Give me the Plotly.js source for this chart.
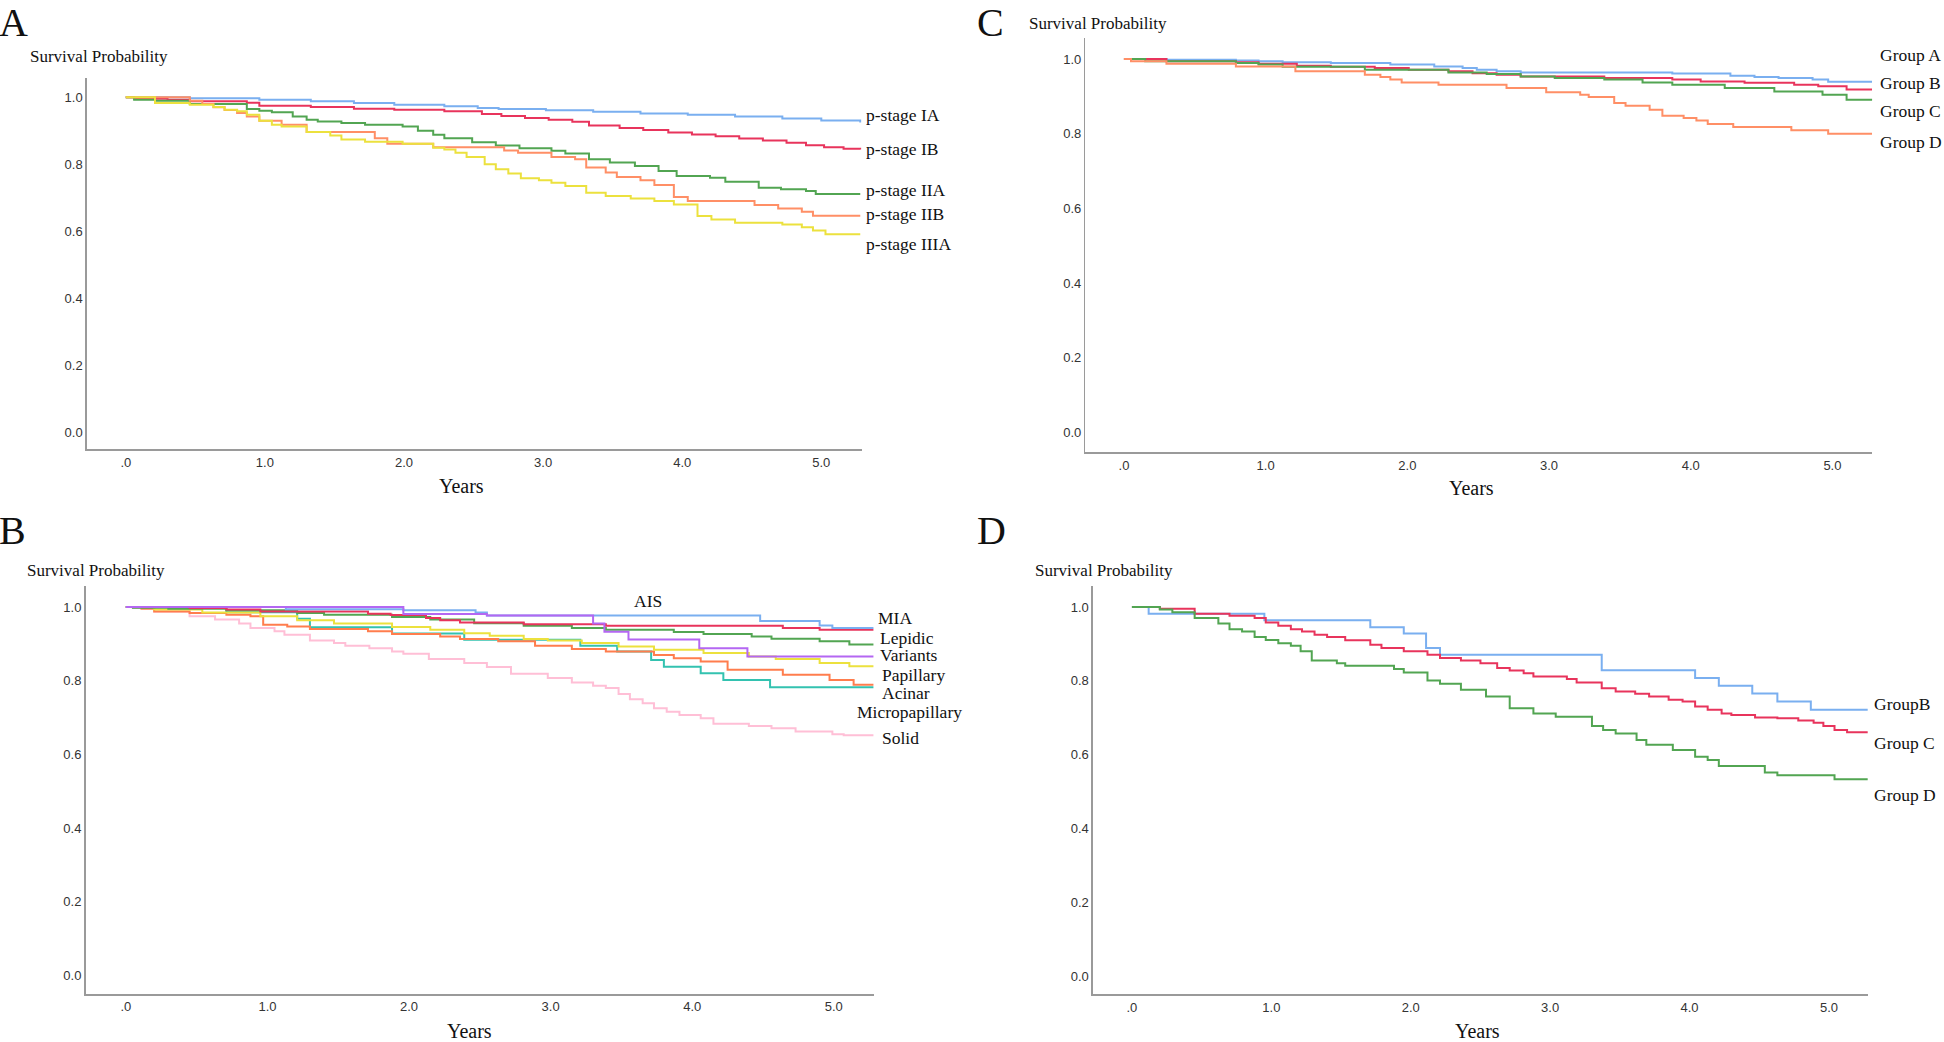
<!DOCTYPE html>
<html><head><meta charset="utf-8">
<script src="https://cdn.plot.ly/plotly-3.0.1.min.js"></script>
<style>html,body{margin:0;padding:0;background:#fff;}#chart{width:1944px;height:1042px;}</style>
</head><body><div id="chart"></div>
<script>
// ---------- tick labels ----------
const yearTicks = [0, 1, 2, 3, 4, 5];
const yearTickText = ['.0', '1.0', '2.0', '3.0', '4.0', '5.0'];
const probTicks = [0, 0.2, 0.4, 0.6, 0.8, 1.0];
const probTickText = ['0.0', '0.2', '0.4', '0.6', '0.8', '1.0'];

// ---------- Panel A : p-stage ----------
const stageLabels = ['p-stage IA', 'p-stage IB', 'p-stage IIA', 'p-stage IIB', 'p-stage IIIA'];
const IA_t = [0, 0.46, 0.96, 1.33, 1.64, 1.93, 2.29, 2.53, 2.68, 3.02, 3.36, 3.70, 4.04, 4.38, 4.72, 5.00, 5.28];
const IA_s = [1.000, 0.997, 0.993, 0.988, 0.983, 0.978, 0.973, 0.968, 0.965, 0.961, 0.957, 0.952, 0.948, 0.943, 0.937, 0.931, 0.925];
const IB_t = [0, 0.06, 0.30, 0.46, 0.87, 0.96, 1.33, 1.64, 1.93, 2.29, 2.56, 2.70, 2.87, 3.04, 3.21, 3.33, 3.55, 3.72, 3.90, 4.07, 4.24, 4.41, 4.58, 4.75, 4.89, 5.02, 5.16, 5.28];
const IB_s = [1.000, 0.996, 0.993, 0.988, 0.984, 0.975, 0.971, 0.966, 0.963, 0.958, 0.950, 0.944, 0.938, 0.933, 0.927, 0.916, 0.908, 0.902, 0.895, 0.889, 0.884, 0.877, 0.871, 0.864, 0.857, 0.851, 0.846, 0.844];
const IIA_t = [0, 0.06, 0.21, 0.46, 0.87, 0.96, 1.05, 1.20, 1.30, 1.38, 1.55, 1.72, 1.99, 2.10, 2.21, 2.29, 2.49, 2.66, 2.83, 3.06, 3.16, 3.33, 3.48, 3.66, 3.83, 3.96, 4.20, 4.31, 4.55, 4.71, 4.89, 4.96, 5.28];
const IIA_s = [1.000, 0.993, 0.990, 0.980, 0.965, 0.960, 0.955, 0.943, 0.933, 0.928, 0.923, 0.918, 0.913, 0.900, 0.888, 0.878, 0.866, 0.856, 0.848, 0.840, 0.832, 0.815, 0.805, 0.795, 0.780, 0.765, 0.760, 0.748, 0.730, 0.725, 0.720, 0.711, 0.711];
const IIB_t = [0, 0.46, 0.55, 0.63, 0.71, 0.80, 0.87, 0.96, 1.12, 1.30, 1.79, 1.88, 2.21, 2.72, 2.82, 3.06, 3.23, 3.31, 3.45, 3.53, 3.70, 3.80, 3.94, 4.04, 4.52, 4.69, 4.86, 4.94, 5.28];
const IIB_s = [1.000, 0.990, 0.980, 0.970, 0.962, 0.953, 0.943, 0.930, 0.918, 0.896, 0.878, 0.861, 0.851, 0.841, 0.834, 0.822, 0.815, 0.790, 0.775, 0.762, 0.752, 0.738, 0.702, 0.690, 0.678, 0.668, 0.658, 0.646, 0.646];
const IIIA_t = [0, 0.21, 0.46, 0.63, 0.71, 0.80, 0.87, 0.96, 1.05, 1.12, 1.30, 1.47, 1.55, 1.72, 1.99, 2.21, 2.29, 2.37, 2.45, 2.58, 2.66, 2.75, 2.84, 2.97, 3.06, 3.16, 3.31, 3.45, 3.63, 3.80, 3.94, 4.11, 4.21, 4.38, 4.72, 4.86, 4.94, 5.03, 5.28];
const IIIA_s = [1.000, 0.983, 0.978, 0.971, 0.963, 0.958, 0.948, 0.930, 0.918, 0.913, 0.896, 0.886, 0.874, 0.867, 0.861, 0.849, 0.844, 0.834, 0.822, 0.800, 0.785, 0.772, 0.758, 0.752, 0.745, 0.735, 0.715, 0.705, 0.698, 0.690, 0.680, 0.645, 0.635, 0.625, 0.620, 0.612, 0.602, 0.591, 0.591];

// ---------- Panel B : histologic subtype ----------
const subtypeLabels = ['AIS', 'MIA', 'Lepidic', 'Variants', 'Papillary', 'Acinar', 'Micropapillary', 'Solid'];
const AIS_t = [0, 1.13, 1.96, 2.47, 2.55, 4.48, 4.90, 4.99, 5.28];
const AIS_s = [1.000, 0.994, 0.991, 0.985, 0.977, 0.962, 0.950, 0.943, 0.943];
const MIA_t = [0, 0.45, 0.71, 0.95, 1.71, 1.87, 2.12, 2.22, 2.36, 2.81, 3.39, 4.64, 4.90, 5.28];
const MIA_s = [1.000, 0.997, 0.993, 0.988, 0.982, 0.978, 0.970, 0.964, 0.958, 0.953, 0.949, 0.943, 0.938, 0.938];
const Lep_t = [0, 0.05, 0.30, 0.71, 1.21, 1.40, 1.88, 2.15, 2.46, 2.81, 3.15, 3.39, 3.87, 4.08, 4.42, 4.56, 4.90, 5.11, 5.28];
const Lep_s = [1.000, 0.998, 0.995, 0.991, 0.984, 0.979, 0.973, 0.966, 0.956, 0.949, 0.943, 0.938, 0.932, 0.927, 0.920, 0.914, 0.907, 0.898, 0.898];
const Var_t = [0, 1.96, 2.55, 3.30, 3.38, 3.55, 4.05, 4.39, 5.28];
const Var_s = [1.000, 0.981, 0.977, 0.955, 0.933, 0.912, 0.888, 0.866, 0.866];
const Pap_t = [0, 0.20, 0.54, 0.95, 1.21, 1.47, 1.88, 2.15, 2.39, 2.57, 2.81, 2.98, 3.22, 3.48, 3.73, 4.08, 4.40, 4.59, 4.90, 5.11, 5.28];
const Pap_s = [1.000, 0.993, 0.985, 0.975, 0.964, 0.955, 0.946, 0.938, 0.929, 0.922, 0.913, 0.909, 0.902, 0.893, 0.884, 0.875, 0.866, 0.859, 0.848, 0.839, 0.839];
const Aci_t = [0, 0.11, 0.20, 0.45, 0.71, 0.88, 0.97, 1.14, 1.30, 1.71, 1.88, 2.22, 2.36, 2.63, 2.89, 3.15, 3.39, 3.73, 3.87, 4.06, 4.25, 4.64, 4.97, 5.14, 5.28];
const Aci_s = [1.000, 0.995, 0.988, 0.984, 0.979, 0.975, 0.952, 0.947, 0.940, 0.934, 0.927, 0.920, 0.913, 0.907, 0.895, 0.886, 0.879, 0.870, 0.861, 0.852, 0.830, 0.816, 0.802, 0.789, 0.789];
const Mic_t = [0, 0.71, 1.21, 1.30, 1.88, 2.39, 3.21, 3.47, 3.71, 3.80, 4.06, 4.22, 4.55, 5.28];
const Mic_s = [1.000, 0.986, 0.968, 0.945, 0.928, 0.911, 0.895, 0.879, 0.856, 0.838, 0.820, 0.802, 0.782, 0.782];
const Sol_t = [0, 0.05, 0.20, 0.45, 0.63, 0.80, 0.88, 1.05, 1.12, 1.30, 1.47, 1.55, 1.72, 1.88, 1.96, 2.14, 2.39, 2.55, 2.72, 2.98, 3.15, 3.30, 3.39, 3.48, 3.56, 3.65, 3.73, 3.82, 3.91, 4.06, 4.15, 4.40, 4.56, 4.73, 4.99, 5.07, 5.28];
const Sol_s = [1.000, 0.997, 0.988, 0.975, 0.966, 0.955, 0.943, 0.934, 0.925, 0.909, 0.902, 0.895, 0.888, 0.879, 0.873, 0.859, 0.848, 0.837, 0.819, 0.807, 0.795, 0.786, 0.780, 0.764, 0.750, 0.739, 0.725, 0.716, 0.707, 0.698, 0.683, 0.677, 0.671, 0.662, 0.655, 0.652, 0.652];

// ---------- Panel C : groups A-D ----------
const groupLabelsC = ['Group A', 'Group B', 'Group C', 'Group D'];
const CA_t = [0, 0.30, 0.79, 0.95, 1.12, 1.46, 1.88, 2.19, 2.39, 2.49, 2.63, 2.80, 3.87, 4.28, 4.45, 4.62, 4.86, 4.97, 5.28];
const CA_s = [1.000, 0.998, 0.996, 0.994, 0.991, 0.989, 0.985, 0.980, 0.976, 0.971, 0.967, 0.964, 0.961, 0.955, 0.952, 0.949, 0.945, 0.939, 0.939];
const CB_t = [0, 0.30, 0.79, 0.95, 1.22, 1.46, 1.77, 2.01, 2.29, 2.46, 2.63, 2.80, 3.39, 3.87, 4.07, 4.38, 4.73, 4.90, 5.10, 5.28];
const CB_s = [1.000, 0.994, 0.991, 0.987, 0.982, 0.979, 0.976, 0.971, 0.967, 0.962, 0.958, 0.953, 0.949, 0.945, 0.940, 0.936, 0.931, 0.927, 0.918, 0.918];
const CC_t = [0, 0.15, 0.79, 0.95, 1.12, 1.70, 2.29, 2.56, 2.80, 3.04, 3.39, 3.66, 3.87, 4.24, 4.59, 4.93, 5.10, 5.28];
const CC_s = [1.000, 0.994, 0.989, 0.985, 0.979, 0.971, 0.964, 0.960, 0.953, 0.949, 0.945, 0.937, 0.931, 0.922, 0.913, 0.904, 0.891, 0.889];
const CD_t = [0, 0.05, 0.30, 0.79, 1.21, 1.70, 1.81, 1.88, 1.96, 2.22, 2.70, 2.98, 3.22, 3.28, 3.46, 3.54, 3.71, 3.80, 3.95, 4.04, 4.12, 4.30, 4.71, 4.97, 5.28];
const CD_s = [1.000, 0.994, 0.987, 0.980, 0.967, 0.958, 0.952, 0.945, 0.937, 0.931, 0.922, 0.911, 0.904, 0.898, 0.882, 0.875, 0.864, 0.848, 0.842, 0.835, 0.826, 0.818, 0.809, 0.800, 0.800];

// ---------- Panel D : groups B-D ----------
const groupLabelsD = ['GroupB', 'Group C', 'Group D'];
const DB_t = [0, 0.12, 0.95, 1.71, 1.95, 2.11, 2.21, 3.37, 4.04, 4.21, 4.45, 4.63, 4.87, 5.28];
const DB_s = [1.000, 0.982, 0.964, 0.945, 0.928, 0.889, 0.871, 0.829, 0.808, 0.787, 0.766, 0.744, 0.722, 0.722];
const DC_t = [0, 0.20, 0.45, 0.70, 0.88, 0.96, 1.05, 1.14, 1.22, 1.31, 1.40, 1.53, 1.71, 1.79, 1.95, 2.12, 2.21, 2.36, 2.50, 2.62, 2.71, 2.81, 2.88, 3.12, 3.19, 3.37, 3.47, 3.61, 3.71, 3.85, 3.95, 4.04, 4.13, 4.23, 4.30, 4.47, 4.63, 4.78, 4.89, 4.96, 5.04, 5.13, 5.28];
const DC_s = [1.000, 0.995, 0.982, 0.976, 0.970, 0.958, 0.949, 0.940, 0.934, 0.925, 0.919, 0.910, 0.898, 0.889, 0.880, 0.871, 0.862, 0.855, 0.848, 0.835, 0.828, 0.821, 0.812, 0.805, 0.796, 0.780, 0.771, 0.765, 0.758, 0.749, 0.744, 0.731, 0.722, 0.712, 0.708, 0.701, 0.699, 0.693, 0.687, 0.678, 0.667, 0.661, 0.661];
const DD_t = [0, 0.20, 0.29, 0.45, 0.62, 0.70, 0.79, 0.88, 0.96, 1.05, 1.14, 1.21, 1.29, 1.47, 1.53, 1.88, 1.95, 2.12, 2.21, 2.36, 2.54, 2.71, 2.88, 3.04, 3.30, 3.38, 3.47, 3.62, 3.69, 3.88, 4.04, 4.13, 4.21, 4.54, 4.63, 5.04, 5.28];
const DD_s = [1.000, 0.993, 0.986, 0.970, 0.955, 0.940, 0.934, 0.919, 0.911, 0.902, 0.895, 0.880, 0.855, 0.848, 0.841, 0.832, 0.823, 0.801, 0.792, 0.776, 0.758, 0.726, 0.712, 0.703, 0.678, 0.667, 0.658, 0.640, 0.627, 0.613, 0.595, 0.586, 0.570, 0.552, 0.545, 0.534, 0.534];

// ---------- styling / layout ----------
const W = 1944, H = 1042;
const C = {blue:'#7aaff0', red:'#e8345c', green:'#52a552', salmon:'#ff8f66', yellow:'#ece13e',
           purple:'#b467f2', teal:'#33c2b0', pink:'#ffbfd6', orange:'#ff7d4d'};
const serif = 'Liberation Serif, Times New Roman, serif';
const tickFont = {family:'Liberation Sans Narrow, Liberation Sans, Arial, sans-serif', size:13, color:'#333'};
const px = x => x / W, py = y => 1 - y / H;

// panel geometry in pixels
const P = {
  A:{x0:86.8, x1:861.6, y0:78.3, y1:449.3, xr:[-0.2804, 5.2897], yr:[-0.0517, 1.0568]},
  C:{x0:1085.4, x1:1872.1, y0:38.3, y1:452.3, xr:[-0.272, 5.28], yr:[-0.0536, 1.0554]},
  B:{x0:85.5, x1:874.0, y0:586.0, y1:993.7, xr:[-0.285, 5.284], yr:[-0.0494, 1.057]},
  D:{x0:1092.9, x1:1867.7, y0:586.0, y1:994.3, xr:[-0.28, 5.278], yr:[-0.048, 1.0568]}
};
const axisIds = {A:['x','y',''], C:['x2','y2','2'], B:['x3','y3','3'], D:['x4','y4','4']};

function km(t, s, color, name, panel){
  return {x:t, y:s, type:'scatter', mode:'lines', name:name,
          line:{shape:'hv', color:color, width:2},
          xaxis:axisIds[panel][0], yaxis:axisIds[panel][1], hoverinfo:'skip'};
}

const traces = [
  km(IA_t, IA_s, C.blue, stageLabels[0], 'A'),
  km(IB_t, IB_s, C.red, stageLabels[1], 'A'),
  km(IIA_t, IIA_s, C.green, stageLabels[2], 'A'),
  km(IIB_t, IIB_s, C.salmon, stageLabels[3], 'A'),
  km(IIIA_t, IIIA_s, C.yellow, stageLabels[4], 'A'),

  km(CA_t, CA_s, C.blue, groupLabelsC[0], 'C'),
  km(CB_t, CB_s, C.red, groupLabelsC[1], 'C'),
  km(CC_t, CC_s, C.green, groupLabelsC[2], 'C'),
  km(CD_t, CD_s, C.salmon, groupLabelsC[3], 'C'),

  km(Sol_t, Sol_s, C.pink, subtypeLabels[7], 'B'),
  km(Mic_t, Mic_s, C.teal, subtypeLabels[6], 'B'),
  km(Aci_t, Aci_s, C.orange, subtypeLabels[5], 'B'),
  km(Pap_t, Pap_s, C.yellow, subtypeLabels[4], 'B'),
  km(Lep_t, Lep_s, C.green, subtypeLabels[2], 'B'),
  km(MIA_t, MIA_s, C.red, subtypeLabels[1], 'B'),
  km(AIS_t, AIS_s, C.blue, subtypeLabels[0], 'B'),
  km(Var_t, Var_s, C.purple, subtypeLabels[3], 'B'),

  km(DB_t, DB_s, C.blue, groupLabelsD[0], 'D'),
  km(DC_t, DC_s, C.red, groupLabelsD[1], 'D'),
  km(DD_t, DD_s, C.green, groupLabelsD[2], 'D')
];

const layout = {
  width:W, height:H, margin:{l:0, r:0, t:0, b:0},
  paper_bgcolor:'#ffffff', plot_bgcolor:'#ffffff', showlegend:false,
  annotations:[]
};

function makeAxes(key){
  const p = P[key], id = axisIds[key][2];
  const xa = {domain:[px(p.x0), px(p.x1)], range:p.xr, anchor:'y'+id,
    tickvals:yearTicks, ticktext:yearTickText, tickfont:tickFont, ticks:'', ticklabelstandoff:0,
    showline:true, linecolor:'#9a9a9a', linewidth:2, showgrid:false, zeroline:false, fixedrange:true};
  const ya = {domain:[py(p.y1), py(p.y0)], range:p.yr, anchor:'x'+id,
    tickvals:probTicks, ticktext:probTickText, tickfont:tickFont, ticks:'', ticklabelstandoff:0,
    showline:true, linecolor:'#9a9a9a', linewidth:1.5, showgrid:false, zeroline:false, fixedrange:true};
  layout['xaxis'+id] = xa; layout['yaxis'+id] = ya;
}
['A','C','B','D'].forEach(makeAxes);

function ann(text, x, y, size, xanchor, family){
  layout.annotations.push({text:text, x:px(x), y:py(y), xref:'paper', yref:'paper',
    xanchor:xanchor||'left', yanchor:'middle', showarrow:false,
    font:{family:family||serif, size:size, color:'#111'}});
}
// panel letters
ann('A', -3, 23, 40); ann('C', 975, 23, 40); ann('B', -3, 530, 40); ann('D', 975, 530, 40);
// y titles
ann('Survival Probability', 28, 57, 17); ann('Survival Probability', 1026.5, 24, 17);
ann('Survival Probability', 24.8, 570, 17); ann('Survival Probability', 1032.7, 570, 17);
// x titles
ann('Years', 461.8, 486, 20, 'center'); ann('Years', 1471, 487.7, 20, 'center');
ann('Years', 469.3, 1030.5, 20, 'center'); ann('Years', 1477.2, 1030.5, 20, 'center');
// series labels
const stageLabelY = [115, 149, 190, 214, 243.5];
stageLabels.forEach((t,i)=>ann(t, 863.5, stageLabelY[i], 17.5));
const groupCLabelY = [55, 83.3, 110.7, 142.3];
groupLabelsC.forEach((t,i)=>ann(t, 1878.3, groupCLabelY[i], 17.5));
const subtypeLabelPos = [[648,601,'center'],[875.9,617.7],[878.4,638.3],[878.4,655],[880.2,675],[880.2,693.3],[855.4,711.7],[880.2,738.3]];
subtypeLabels.forEach((t,i)=>ann(t, subtypeLabelPos[i][0], subtypeLabelPos[i][1], 17.5, subtypeLabelPos[i][2]||'left'));
const groupDLabelY = [704.3, 742.7, 795];
groupLabelsD.forEach((t,i)=>ann(t, 1872.1, groupDLabelY[i], 17.5));

Plotly.newPlot('chart', traces, layout, {displayModeBar:false, staticPlot:true});
</script>
</body></html>
